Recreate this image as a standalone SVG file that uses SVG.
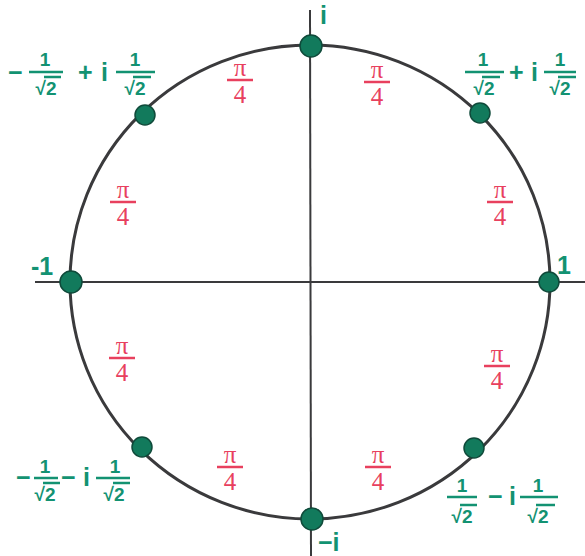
<svg xmlns="http://www.w3.org/2000/svg" width="585" height="556" viewBox="0 0 585 556">
<style>
.ax{stroke:#3a3a3c;stroke-width:2;fill:none}
.circ{stroke:#3a3a3c;stroke-width:3;fill:none}
.dot{fill:#127a5c;stroke:#0f4a3a;stroke-width:1.5}
.g{fill:#139272;font-family:"Liberation Sans",Arial,sans-serif;font-size:25px;font-weight:bold}
.gs{fill:#139272;font-family:"Liberation Sans",Arial,sans-serif;font-size:19px;font-weight:bold;text-anchor:middle}
.gb{stroke:#139272;stroke-width:2.5}
.r{fill:#e8405e;font-family:"Liberation Serif","Times New Roman",serif;font-size:25px;text-anchor:middle}
.rb{stroke:#e8405e;stroke-width:2.5}
</style>
<rect width="585" height="556" fill="#ffffff"/>
<g id="axes">
<line class="ax" x1="35" y1="282" x2="585" y2="282"/>
<line class="ax" x1="310" y1="10" x2="311" y2="556"/>
</g>
<g id="circle">
<ellipse class="circ" cx="310" cy="282" rx="240" ry="237"/>
</g>
<g id="points">
<circle class="dot" cx="311" cy="46" r="11"/>
<circle class="dot" cx="312" cy="519" r="11"/>
<circle class="dot" cx="71" cy="282" r="11"/>
<circle class="dot" cx="549" cy="282" r="10"/>
<circle class="dot" cx="145" cy="115" r="10"/>
<circle class="dot" cx="480" cy="113" r="10"/>
<circle class="dot" cx="142" cy="447" r="10"/>
<circle class="dot" cx="474" cy="448" r="10"/>
</g>
<g id="angle-labels">
<g transform="translate(240,80)"><text class="r" x="0" y="-4">π</text><line class="rb" x1="-13" y1="0" x2="13" y2="0"/><text class="r" x="0" y="23">4</text></g>
<g transform="translate(377,82)"><text class="r" x="0" y="-4">π</text><line class="rb" x1="-13" y1="0" x2="13" y2="0"/><text class="r" x="0" y="23">4</text></g>
<g transform="translate(123,202)"><text class="r" x="0" y="-4">π</text><line class="rb" x1="-13" y1="0" x2="13" y2="0"/><text class="r" x="0" y="23">4</text></g>
<g transform="translate(500,202)"><text class="r" x="0" y="-4">π</text><line class="rb" x1="-13" y1="0" x2="13" y2="0"/><text class="r" x="0" y="23">4</text></g>
<g transform="translate(122,358)"><text class="r" x="0" y="-4">π</text><line class="rb" x1="-13" y1="0" x2="13" y2="0"/><text class="r" x="0" y="23">4</text></g>
<g transform="translate(497,366)"><text class="r" x="0" y="-4">π</text><line class="rb" x1="-13" y1="0" x2="13" y2="0"/><text class="r" x="0" y="23">4</text></g>
<g transform="translate(230,467)"><text class="r" x="0" y="-4">π</text><line class="rb" x1="-13" y1="0" x2="13" y2="0"/><text class="r" x="0" y="23">4</text></g>
<g transform="translate(378,467)"><text class="r" x="0" y="-4">π</text><line class="rb" x1="-13" y1="0" x2="13" y2="0"/><text class="r" x="0" y="23">4</text></g>
</g>
<g id="label-i"><text class="g" x="320" y="24">i</text></g>
<g id="label-minus-i"><text class="g" x="318" y="551">−i</text></g>
<g id="label-minus-1"><text class="g" x="31" y="275">-1</text></g>
<g id="label-1"><text class="g" x="557" y="274">1</text></g>
<g id="label-ul">
<text class="g" x="8" y="81">−</text>
<text class="gs" x="45" y="66">1</text><line class="gb" x1="29" y1="72" x2="63" y2="72"/><text class="gs" x="46" y="95">√2</text><line class="gb" x1="44" y1="77" x2="61" y2="77"/>
<text class="g" x="78" y="81">+</text><text class="g" x="101" y="81">i</text>
<text class="gs" x="135" y="66">1</text><line class="gb" x1="116" y1="72" x2="155" y2="72"/><text class="gs" x="135" y="95">√2</text><line class="gb" x1="133" y1="77" x2="151" y2="77"/>
</g>
<g id="label-ur">
<text class="gs" x="483" y="66">1</text><line class="gb" x1="465" y1="72" x2="504" y2="72"/><text class="gs" x="484" y="95">√2</text><line class="gb" x1="482" y1="77" x2="500" y2="77"/>
<text class="g" x="509" y="81">+</text><text class="g" x="531" y="81">i</text>
<text class="gs" x="560" y="66">1</text><line class="gb" x1="544" y1="72" x2="576" y2="72"/><text class="gs" x="560" y="95">√2</text><line class="gb" x1="558" y1="77" x2="576" y2="77"/>
</g>
<g id="label-ll">
<text class="g" x="16" y="486">−</text>
<text class="gs" x="45" y="473">1</text><line class="gb" x1="34" y1="478" x2="58" y2="478"/><text class="gs" x="45" y="501">√2</text><line class="gb" x1="43" y1="483" x2="60" y2="483"/>
<text class="g" x="61" y="486">−</text><text class="g" x="83" y="486">i</text>
<text class="gs" x="115" y="473">1</text><line class="gb" x1="96" y1="478" x2="130" y2="478"/><text class="gs" x="114" y="501">√2</text><line class="gb" x1="113" y1="483" x2="130" y2="483"/>
</g>
<g id="label-lr">
<text class="gs" x="462" y="492">1</text><line class="gb" x1="447" y1="497" x2="477" y2="497"/><text class="gs" x="462" y="523">√2</text><line class="gb" x1="460" y1="505" x2="477" y2="505"/>
<text class="g" x="488" y="505">−</text><text class="g" x="509" y="505">i</text>
<text class="gs" x="538" y="492">1</text><line class="gb" x1="520" y1="497" x2="558" y2="497"/><text class="gs" x="538" y="523">√2</text><line class="gb" x1="536" y1="505" x2="555" y2="505"/>
</g>
</svg>
